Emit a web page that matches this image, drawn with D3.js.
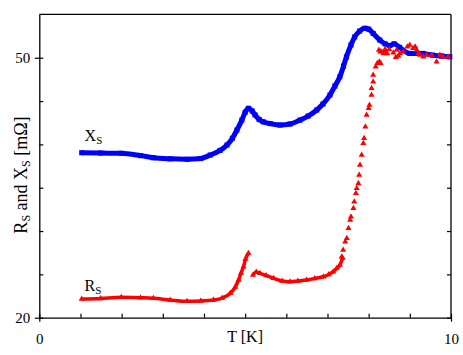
<!DOCTYPE html>
<html>
<head>
<meta charset="utf-8">
<script src="https://cdn.jsdelivr.net/npm/d3@7"></script>
<style>
  body { margin: 0; background: #fff; }
  text { font-family: "Liberation Serif", "Times New Roman", serif; fill: #000; }
</style>
</head>
<body>
<svg id="chart" width="463" height="355"></svg>
<script>
// X_S (blue squares)
const xsT = [1.03,1.49,1.99,2.46,2.77,3.18,3.59,3.92,4.15,4.39,4.56,4.69,4.80,4.92,5.00,5.08,5.17,5.24,5.34,5.44,5.61,5.85,6.09,6.33,6.53,6.74,6.89,7.06,7.18,7.30,7.39,7.46,7.57,7.66,7.78,7.91,8.00,8.11,8.27,8.40,8.51,8.62,8.75,9.00,9.31,9.55,9.77,9.97]
const xsV = [39.04,39.0,38.97,38.7,38.46,38.33,38.28,38.37,38.77,39.3,39.93,40.7,41.66,42.8,43.7,44.16,43.85,43.4,42.87,42.6,42.4,42.23,42.35,42.8,43.27,43.97,44.66,45.7,46.73,47.8,49.04,50.1,51.47,52.4,53.08,53.4,53.3,52.8,52.04,51.6,51.4,51.6,51.2,50.5,50.5,50.3,50.2,50.1]

// R_S (red triangles), low part up to the little peak
const rsLowT = [1.03,1.49,1.99,2.46,2.77,3.18,3.59,3.92,4.23,4.44,4.64,4.76,4.84,4.90,4.96,5.01,5.08]
const rsLowV = [22.16,22.22,22.35,22.3,22.24,22.04,21.89,21.93,22.04,22.27,22.82,23.54,24.35,25.16,25.89,26.77,27.43]
// R_S after the jump
const rsMidT = [5.19,5.27,5.36,5.51,5.69,5.90,6.09,6.28,6.49,6.69,6.90,7.03,7.14,7.23,7.30,7.37]
const rsMidV = [24.93,25.27,25.12,24.87,24.55,24.24,24.15,24.24,24.35,24.53,24.73,24.99,25.31,25.73,26.08,26.89]
// R_S steep rise, sparse points
const rsRiseT = [7.345,7.38,7.43,7.47,7.51,7.55,7.57,7.63,7.65,7.69,7.71,7.75,7.77,7.79,7.83,7.87,7.89,7.92,7.95,8.00,8.02,8.07,8.07,8.11,8.11,8.17,8.21,8.26,8.29,8.28,8.36,8.40]
const rsRiseV = [27.04,27.81,28.77,29.16,30.32,31.27,31.65,32.62,33.39,34.35,34.93,35.5,36.47,37.62,38.77,40.12,40.7,42.04,43.39,44.16,44.54,45.7,46.47,47.23,48.0,48.96,49.35,49.54,49.35,50.69,50.5,50.69]
// R_S scattered top part
const rsTopT = [8.25,8.32,8.40,8.45,8.50,8.60,8.68,8.72,8.66,8.76,8.84,8.94,9.00,9.08,9.13,9.17,9.21,9.25,9.33,9.41,9.53,9.65,9.73,9.81,9.93]
const rsTopV = [50.89,50.69,50.97,50.5,50.97,50.58,50.89,50.2,50.05,50.5,50.69,51.27,51.47,51.08,51.27,50.89,50.5,50.31,50.12,50.31,50.31,49.54,50.31,50.12,50.12]

const xTicks = [0,1,2,3,4,5,6,7,8,9,10]
const yTicks = [20,25,30,35,40,45,50]
const yLabels = [20,50]

const svg = d3.select("#chart")
const x = d3.scaleLinear().domain([0,10]).range([39.3,451])
const y = d3.scaleLinear().domain([20,55]).range([317.7,14.4])

function pts(t,v){ return t.map((d,i)=>[d,v[i]]) }
const xs = pts(xsT,xsV)
const rsLow = pts(rsLowT,rsLowV)
const rsMid = pts(rsMidT,rsMidV)
const rsRise = pts(rsRiseT,rsRiseV)
const rsTop = pts(rsTopT,rsTopV)

// frame
svg.append("line").attr("x1",x(0)).attr("x2",x(10)).attr("y1",y(55)).attr("y2",y(55)).attr("stroke","#000").attr("stroke-width",1.3)
svg.append("line").attr("x1",x(10)).attr("x2",x(10)).attr("y1",y(55)).attr("y2",y(20)).attr("stroke","#000").attr("stroke-width",1.3)

// bottom axis
let gx = svg.append("g").attr("transform","translate(0,"+y(20)+")")
  .call(d3.axisBottom(x).tickValues(xTicks).tickSizeInner(4).tickSizeOuter(0).tickPadding(12)
    .tickFormat(d=> (d==0||d==10) ? d : ""))
gx.selectAll(".tick line").attr("y1",d=> (d==0||d==10) ? 4 : 0).attr("y2",-4)
gx.selectAll("text").style("font-size","15px").attr("font-family",null)
gx.select(".domain").attr("stroke-width",1.3)
gx.selectAll(".tick line").attr("stroke-width",1.2)

// left axis
let gy = svg.append("g").attr("transform","translate("+x(0)+",0)")
  .call(d3.axisLeft(y).tickValues(yTicks).tickSizeInner(4).tickSizeOuter(0).tickPadding(5)
    .tickFormat(d=> yLabels.includes(d) ? d : ""))
gy.selectAll(".tick line").attr("x1",d=> yLabels.includes(d) ? -4.5 : 0).attr("x2",4)
gy.selectAll("text").style("font-size","15px").attr("font-family",null)
gy.select(".domain").attr("stroke-width",1.3)
gy.selectAll(".tick line").attr("stroke-width",1.2)

// right side ticks
let gr = svg.append("g").attr("transform","translate("+x(10)+",0)")
  .call(d3.axisRight(y).tickValues(yTicks).tickSize(-4).tickFormat(""))
gr.select(".domain").remove()
gr.selectAll(".tick line").attr("stroke-width",1.2)

// axis titles
svg.append("text").attr("x",x(5)).attr("y",342).attr("text-anchor","middle").style("font-size","16px").text("T [K]")

let yt = svg.append("text").attr("transform","translate(27,175) rotate(-90)").attr("text-anchor","middle").style("font-size","18px")
yt.append("tspan").text("R")
yt.append("tspan").attr("dy",3).style("font-size","12px").text("S")
yt.append("tspan").attr("dy",-3).text(" and X")
yt.append("tspan").attr("dy",3).style("font-size","12px").text("S")
yt.append("tspan").attr("dy",-3).text(" [m\u03A9]")

// line generator
const line = d3.line().x(d=>x(d[0])).y(d=>y(d[1])).curve(d3.curveMonotoneX)

// X_S
svg.append("path").datum(xs).attr("d",line).attr("fill","none").attr("stroke","#0000ff").attr("stroke-width",5)
svg.append("g").selectAll("path").data(xs).enter().append("path")
  .attr("d",d3.symbol(d3.symbolSquare,26))
  .attr("transform",d=>"translate("+x(d[0])+","+y(d[1])+")")
  .attr("fill","#0000ff")

// R_S
svg.append("path").datum(rsLow).attr("d",line).attr("fill","none").attr("stroke","#ff0000").attr("stroke-width",3.5)
svg.append("path").datum(rsMid).attr("d",line).attr("fill","none").attr("stroke","#ff0000").attr("stroke-width",3.5)
svg.append("g").selectAll("path").data(rsLow.concat(rsMid,rsRise,rsTop)).enter().append("path")
  .attr("d",d3.symbol(d3.symbolTriangle,16))
  .attr("transform",d=>"translate("+x(d[0])+","+y(d[1])+")")
  .attr("fill","#ff0000")

// curve labels
let lx = svg.append("text").attr("x",x(1.1)).attr("y",141).style("font-size","16px")
lx.append("tspan").text("X")
lx.append("tspan").attr("dy",3).style("font-size","11px").text("S")
let lr = svg.append("text").attr("x",x(1.1)).attr("y",291).style("font-size","16px")
lr.append("tspan").text("R")
lr.append("tspan").attr("dy",3).style("font-size","11px").text("S")
</script>
</body>
</html>
